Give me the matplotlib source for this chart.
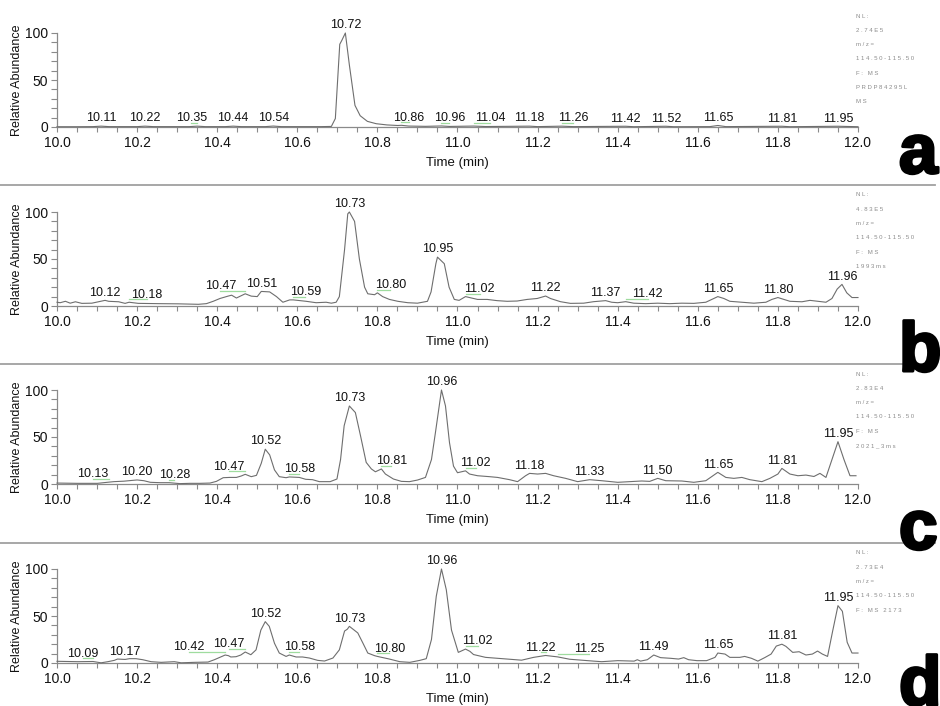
import numpy as np
import matplotlib
matplotlib.use("Agg")
import matplotlib.pyplot as plt
from matplotlib.lines import Line2D
from matplotlib.transforms import ScaledTranslation
import matplotlib.patheffects as pe

plt.rcParams['font.family'] = ['Liberation Sans', 'DejaVu Sans']

# ---------------- chromatogram data (time in min, relative abundance %) ----------------
time_a = [10.00, 10.05, 10.09, 10.11, 10.13, 10.20, 10.22, 10.24, 10.33, 10.35, 10.37,
          10.42, 10.44, 10.46, 10.52, 10.54, 10.56, 10.66, 10.685, 10.695, 10.706, 10.711,
          10.72, 10.73, 10.744, 10.757, 10.775, 10.797, 10.824, 10.851, 10.86, 10.878,
          10.92, 10.96, 10.98, 11.04, 11.07, 11.18, 11.20, 11.26, 11.29, 11.42, 11.44,
          11.52, 11.54, 11.63, 11.65, 11.67, 11.81, 11.83, 11.95, 12.00]
abund_a = [0.3, 0.3, 0.4, 0.9, 0.4, 0.4, 0.9, 0.4, 0.4, 0.9, 0.4,
           0.4, 0.9, 0.4, 0.4, 1.0, 0.4, 0.4, 0.6, 9, 88, 92,
           100, 66, 23, 12, 6, 3.5, 2.2, 1.6, 1.8, 1.0,
           0.7, 1.1, 0.6, 1.0, 0.5, 0.9, 0.4, 0.9, 0.4, 0.8, 0.3,
           0.8, 0.3, 0.4, 1.6, 0.4, 0.8, 0.3, 0.8, 0.3]

time_b = [10.00, 10.008, 10.021, 10.033, 10.046, 10.062, 10.087, 10.12, 10.129, 10.154,
          10.170, 10.18, 10.203, 10.253, 10.303, 10.353, 10.373, 10.390, 10.407, 10.427,
          10.436, 10.448, 10.47, 10.485, 10.50, 10.51, 10.531, 10.548, 10.564, 10.581,
          10.59, 10.622, 10.647, 10.672, 10.685, 10.697, 10.705, 10.718, 10.726, 10.73,
          10.743, 10.755, 10.768, 10.776, 10.793, 10.80, 10.813, 10.830, 10.851, 10.876,
          10.900, 10.925, 10.934, 10.946, 10.95, 10.967, 10.979, 10.992, 11.004, 11.02,
          11.05, 11.074, 11.099, 11.124, 11.149, 11.174, 11.199, 11.22, 11.232, 11.257,
          11.282, 11.315, 11.340, 11.37, 11.385, 11.40, 11.42, 11.44, 11.47, 11.50, 11.53,
          11.56, 11.59, 11.62, 11.635, 11.65, 11.665, 11.68, 11.71, 11.74, 11.77, 11.785,
          11.80, 11.815, 11.83, 11.86, 11.88, 11.90, 11.92, 11.935, 11.948, 11.96, 11.972,
          11.985, 12.00]
abund_b = [4, 3.5, 5, 3, 4.5, 2.8, 3, 6, 5, 4.5,
           2.8, 4, 2.8, 2.5, 2.3, 1.8, 2.5, 5, 8, 10.5,
           11.5, 8.5, 13, 10.5, 10, 15.5, 15, 10, 4, 6.5,
           6.5, 5, 3.5, 4, 3, 4, 10, 60, 98, 100,
           90, 50, 20, 13, 12, 14, 10, 7, 5, 3.5,
           3, 5, 15, 45, 52, 45, 20, 7, 6, 10,
           7, 7, 5.7, 5, 5.3, 7, 8, 10.6, 8, 4.6,
           2.8, 3, 4.6, 5.7, 4, 3.5, 4.6, 3, 2.5, 3, 2.5,
           3, 2.8, 4, 7, 10, 8, 5, 4, 3, 4, 7,
           9, 7, 5, 4.5, 6, 5, 4, 8, 18, 23, 14,
           9, 9]

time_c = [10.00, 10.051, 10.101, 10.13, 10.142, 10.167, 10.192, 10.20, 10.217, 10.233,
          10.258, 10.28, 10.307, 10.332, 10.357, 10.382, 10.398, 10.415, 10.431, 10.448,
          10.460, 10.47, 10.485, 10.498, 10.510, 10.52, 10.531, 10.543, 10.555, 10.572,
          10.58, 10.605, 10.621, 10.638, 10.655, 10.682, 10.699, 10.708, 10.717, 10.73,
          10.745, 10.758, 10.772, 10.785, 10.795, 10.81, 10.820, 10.84, 10.86, 10.88,
          10.90, 10.92, 10.935, 10.945, 10.96, 10.97, 10.98, 10.99, 11.00, 11.02,
          11.03, 11.05, 11.08, 11.10, 11.13, 11.15, 11.17, 11.18, 11.20, 11.22,
          11.24, 11.27, 11.30, 11.33, 11.36, 11.40, 11.43, 11.46, 11.48, 11.50,
          11.52, 11.56, 11.59, 11.62, 11.65, 11.67, 11.69, 11.71, 11.73, 11.76,
          11.78, 11.80, 11.81, 11.83, 11.85, 11.87, 11.89, 11.905, 11.92, 11.935,
          11.95, 11.965, 11.98, 11.995]
abund_c = [1, 0.7, 0.7, 2, 2.5, 3, 4, 4.3, 3.5, 1.8,
           1.4, 1.4, 0.4, 0.7, 0.7, 1, 2.8, 6.7, 7, 7,
           8.5, 10.3, 7.8, 9.2, 22, 37, 31, 15, 7.8, 6.7,
           7.5, 7, 5, 4.6, 2.5, 2.5, 5.3, 26, 62, 83,
           76, 51, 23, 16, 13, 16, 10.6, 5.3, 2.8, 2.5,
           4.2, 7, 26, 55, 100, 83, 44, 19, 12, 14,
           10.6, 8.8, 7.8, 7, 4.6, 2.5, 8.8, 11.3, 10.6, 11.3,
           8.8, 6, 2.5, 4.6, 3.5, 1.8, 2.5, 3.2, 2.8, 6,
           3.5, 3.2, 1.8, 3.5, 12.4, 7, 6, 7, 4.6, 2.5,
           6, 10.6, 16.6, 10.6, 8.8, 9.5, 8, 11.3, 7, 26,
           45, 26, 8.8, 8.8]

time_d = [10.00, 10.052, 10.09, 10.110, 10.127, 10.143, 10.151, 10.17, 10.181, 10.197,
          10.214, 10.235, 10.260, 10.293, 10.310, 10.343, 10.377, 10.393, 10.42, 10.428,
          10.434, 10.447, 10.459, 10.47, 10.484, 10.497, 10.509, 10.52, 10.530, 10.543,
          10.555, 10.572, 10.58, 10.597, 10.613, 10.630, 10.651, 10.668, 10.689, 10.705,
          10.718, 10.725, 10.73, 10.751, 10.764, 10.776, 10.793, 10.80, 10.830, 10.856,
          10.881, 10.906, 10.922, 10.935, 10.947, 10.96, 10.972, 10.985, 11.002, 11.02,
          11.031, 11.04, 11.07, 11.10, 11.13, 11.16, 11.19, 11.22, 11.25, 11.28,
          11.31, 11.34, 11.36, 11.40, 11.441, 11.449, 11.457, 11.474, 11.49, 11.507,
          11.532, 11.552, 11.565, 11.577, 11.598, 11.622, 11.643, 11.65, 11.668, 11.680,
          11.705, 11.717, 11.734, 11.750, 11.767, 11.783, 11.796, 11.81, 11.820, 11.837,
          11.853, 11.870, 11.886, 11.899, 11.911, 11.924, 11.936, 11.95, 11.961, 11.973,
          11.985, 12.00]
abund_d = [1.8, 1.4, 1.6, 0.2, 1.4, 2.8, 4.2, 3.8, 4.6, 4.6,
           3.5, 1.4, 0.7, 1.4, 0.2, 0.7, 1, 3.5, 8.5, 7.8,
           6.4, 6.7, 8.5, 11.7, 8.8, 14, 35, 44, 39, 21,
           10.6, 7, 8.5, 6.4, 6.4, 5.3, 2.8, 2.1, 5.3, 14,
           34, 36, 39, 32, 21, 10.6, 7.8, 7, 4.2, 1.4,
           0.7, 2.8, 4.6, 25, 71, 100, 78, 35, 11.3, 14.8,
           12.4, 9, 6, 5, 4, 3, 6, 8, 6.5, 4,
           3, 2, 1.4, 2.5, 2, 3.5, 2, 3.5, 8.5, 5.7,
           5, 4.2, 5.7, 3.5, 2.5, 2.5, 6, 10.6, 9.5, 6,
           6, 7, 5, 2, 5.7, 9.5, 18, 20, 17.7, 11.3,
           12, 8.5, 9.5, 12.7, 9.5, 7, 32.5, 61, 55, 22,
           10.6, 10.6]

# labelled peak apex times
peaks_a = [10.11, 10.22, 10.35, 10.44, 10.54, 10.72, 10.86, 10.96, 11.04, 11.18, 11.26,
           11.42, 11.52, 11.65, 11.81, 11.95]
peaks_b = [10.12, 10.18, 10.47, 10.51, 10.59, 10.73, 10.80, 10.95, 11.02, 11.22, 11.37,
           11.42, 11.65, 11.80, 11.96]
peaks_c = [10.13, 10.20, 10.28, 10.47, 10.52, 10.58, 10.73, 10.81, 10.96, 11.02, 11.18,
           11.33, 11.50, 11.65, 11.81, 11.95]
peaks_d = [10.09, 10.17, 10.42, 10.47, 10.52, 10.58, 10.73, 10.80, 10.96, 11.02, 11.22,
           11.25, 11.49, 11.65, 11.81, 11.95]

# scan header text beside each trace
info_a = ["NL:", "2.74E5", "m/z=", "114.50-115.50", "F: MS", "PRDP84295L", "MS"]
info_b = ["NL:", "4.83E5", "m/z=", "114.50-115.50", "F: MS", "1993ms"]
info_c = ["NL:", "2.83E4", "m/z=", "114.50-115.50", "F: MS", "2021_3ms"]
info_d = ["NL:", "2.73E4", "m/z=", "114.50-115.50", "F: MS 2173"]

# ---------------- layout ----------------
W, H = 940, 706
fig = plt.figure(figsize=(W / 100, H / 100), dpi=100)
fig.patch.set_facecolor('white')

X0, X1 = 57, 858            # pixel span of the time axis
# (top of 100 %, baseline) in pixels, label shifts (min) for crowded peak labels
panels = [
    dict(t=time_a, v=abund_a, pk=peaks_a, info=info_a, letter='a', px=(33, 127),
         shift={10.35: -0.015, 10.86: 0.018, 10.96: 0.02, 11.04: 0.042, 11.26: 0.028},
         info_y=16, letter_y=173),
    dict(t=time_b, v=abund_b, pk=peaks_b, info=info_b, letter='b', px=(212, 306),
         shift={10.18: 0.044, 10.47: -0.062, 10.59: 0.03, 10.80: 0.032, 11.02: 0.035,
                11.42: 0.055},
         info_y=195, letter_y=371),
    dict(t=time_c, v=abund_c, pk=peaks_c, info=info_c, letter='c', px=(390, 484),
         shift={10.13: -0.04, 10.28: 0.013, 10.47: -0.04, 10.58: 0.025, 10.81: 0.025,
                11.02: 0.025},
         info_y=374, letter_y=549),
    dict(t=time_d, v=abund_d, pk=peaks_d, info=info_d, letter='d', px=(569, 663),
         shift={10.09: -0.025, 10.42: -0.09, 10.47: -0.04, 10.58: 0.025, 10.80: 0.03,
                11.02: 0.03, 11.22: -0.012, 11.25: 0.078},
         info_y=553, letter_y=705),
]

AXIS_C = '#8a8a8a'
TRACE_C = '#6e6e6e'
GREEN = '#9fdc9f'

for p in panels:
    top, base = p['px']
    ax = fig.add_axes([X0 / W, 1 - base / H, (X1 - X0) / W, (base - top) / H])
    ax.set_xlim(10, 12)
    ax.set_ylim(0, 100)
    ax.patch.set_alpha(0)
    t = np.array(p['t'])
    v = np.array(p['v'])
    ax.plot(t, v, color=TRACE_C, lw=0.8, clip_on=False, zorder=3)

    for s in ('top', 'right'):
        ax.spines[s].set_visible(False)
    for s in ('left', 'bottom'):
        ax.spines[s].set_color(AXIS_C)
        ax.spines[s].set_linewidth(0.9)
    ax.spines['left'].set_bounds(0, 100)
    ax.spines['bottom'].set_bounds(10, 12)

    ax.set_xticks(np.round(np.arange(10, 12.001, 0.2), 1))
    ax.set_xticks(np.arange(10, 12.001, 0.05), minor=True)
    ax.set_xticklabels([f"{x:.1f}" for x in np.arange(10, 12.001, 0.2)])
    ax.set_yticks([0, 50, 100])
    ax.set_yticks(np.arange(0, 101, 10), minor=True)
    ax.tick_params(axis='x', which='both', direction='out', length=3.8, width=0.8,
                   color=AXIS_C, labelsize=10, pad=3.0, labelcolor='#111111')
    ax.tick_params(axis='y', which='both', direction='out', length=4.2, width=0.8,
                   color=AXIS_C, labelsize=10, pad=2.0, labelcolor='#111111')

    # peak time labels
    up = ScaledTranslation(0, 2.2 / 72, fig.dpi_scale_trans)
    for pt in p['pk']:
        apex = float(np.interp(pt, t, v))
        dx = p['shift'].get(pt, 0.0)
        ax.annotate(f"{pt:.2f}", xy=(pt + dx, apex), xytext=(0, 3.4),
                    textcoords='offset points', ha='center', va='baseline',
                    fontsize=9, color='#111111', annotation_clip=False, zorder=4)
        if dx:
            ax.plot([pt, pt + dx], [apex, apex], color=GREEN, lw=0.9,
                    transform=ax.transData + up, clip_on=False, zorder=2)

    # axis titles
    fig.text(17 / W, 1 - (top + base) / 2 / H, "Relative Abundance", rotation=90,
             ha='center', va='center', fontsize=9, color='#111111')
    fig.text((X0 + X1) / 2 / W, 1 - (base + 36) / H, "Time (min)",
             ha='center', va='center', fontsize=9.5, color='#111111')

    # scan header block
    for i, line in enumerate(p['info']):
        fig.text(856 / W, 1 - (p['info_y'] + 14.3 * i) / H, " ".join(line),
                 ha='left', va='center', fontsize=4.3, color='#8c8c8c')

    # panel letter
    fig.text(899 / W, 1 - p['letter_y'] / H, p['letter'], ha='left', va='baseline',
             fontsize=50, fontweight='bold', color='black',
             path_effects=[pe.withStroke(linewidth=2.2, foreground='black')])

# separators between panels
for y in (185, 364, 543):
    fig.add_artist(Line2D([0, 935 / W], [1 - y / H, 1 - y / H], color='#a0a0a0', lw=1.3))

fig.savefig('out.png', dpi=100, facecolor='white')
